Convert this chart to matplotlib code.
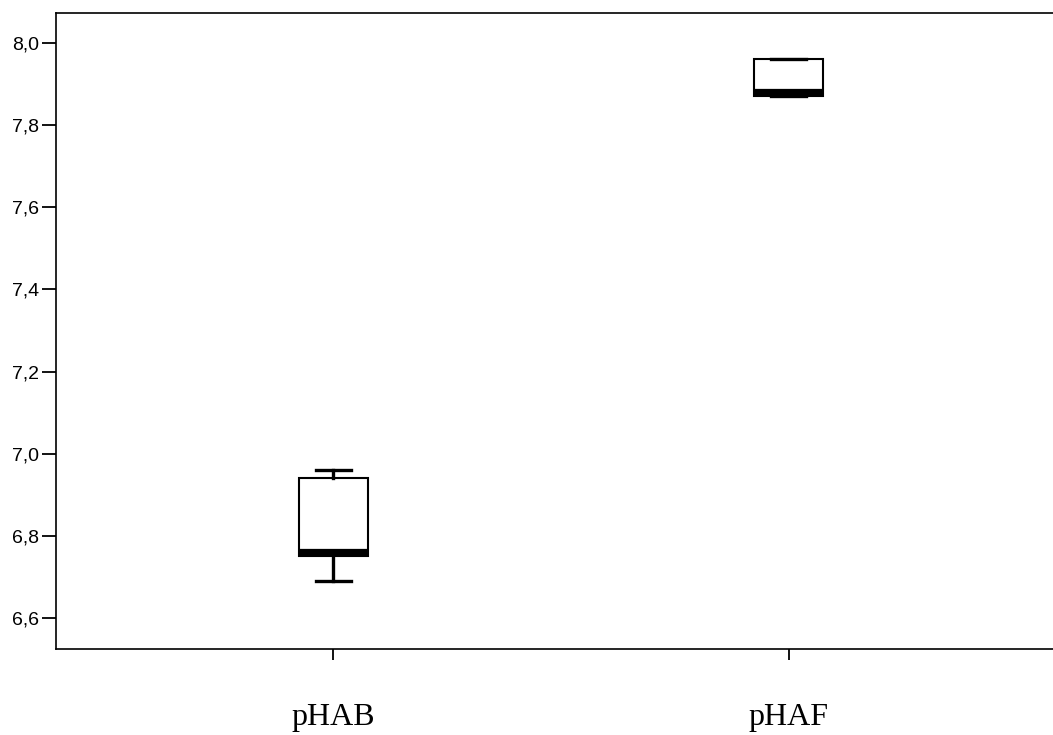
import matplotlib
matplotlib.use("Agg")
import matplotlib.pyplot as plt

# Summary statistics for each pH group
labels = ["pHAB", "pHAF"]
whislo = [6.69, 7.87]
q1 = [6.75, 7.87]
med = [6.76, 7.88]
q3 = [6.94, 7.96]
whishi = [6.96, 7.96]

yticks = [6.6, 6.8, 7.0, 7.2, 7.4, 7.6, 7.8, 8.0]

stats = [
    dict(label=lab, whislo=lo, q1=a, med=m, q3=b, whishi=hi, fliers=[])
    for lab, lo, a, m, b, hi in zip(labels, whislo, q1, med, q3, whishi)
]

fig = plt.figure(figsize=(10.53, 7.35), dpi=100)
ax = fig.add_axes([56 / 1053, 86 / 735, 1.0 - 56 / 1053 + 0.002, (649 - 13) / 735])

positions = list(range(1, len(labels) + 1))
ax.bxp(
    stats,
    positions=positions,
    widths=0.152,
    capwidths=[0.076] * len(labels),
    patch_artist=True,
    boxprops=dict(facecolor="white", edgecolor="black", linewidth=1.5),
    medianprops=dict(color="black", linewidth=4.5, solid_capstyle="butt"),
    whiskerprops=dict(color="black", linewidth=2.4),
    capprops=dict(color="black", linewidth=2.4),
    showfliers=False,
)

ax.set_xlim(0.391, 2.585)
ax.set_ylim(6.5245, 8.073)

ax.set_yticks(yticks)
ax.set_yticklabels([f"{v:.1f}".replace(".", ",") for v in yticks],
                   fontfamily="Liberation Sans", fontsize=14)
ax.set_xticks(positions)
ax.set_xticklabels(labels, fontfamily="Liberation Serif", fontsize=23)

ax.tick_params(axis="y", direction="out", length=10, width=1.3, pad=2, colors="black")
ax.tick_params(axis="x", direction="out", length=8, width=1.3, pad=31, colors="black")

for side in ("left", "top", "bottom"):
    ax.spines[side].set_linewidth(1.2)
    ax.spines[side].set_color("black")
ax.spines["right"].set_visible(False)

fig.savefig("out.png", dpi=100, facecolor="white")
